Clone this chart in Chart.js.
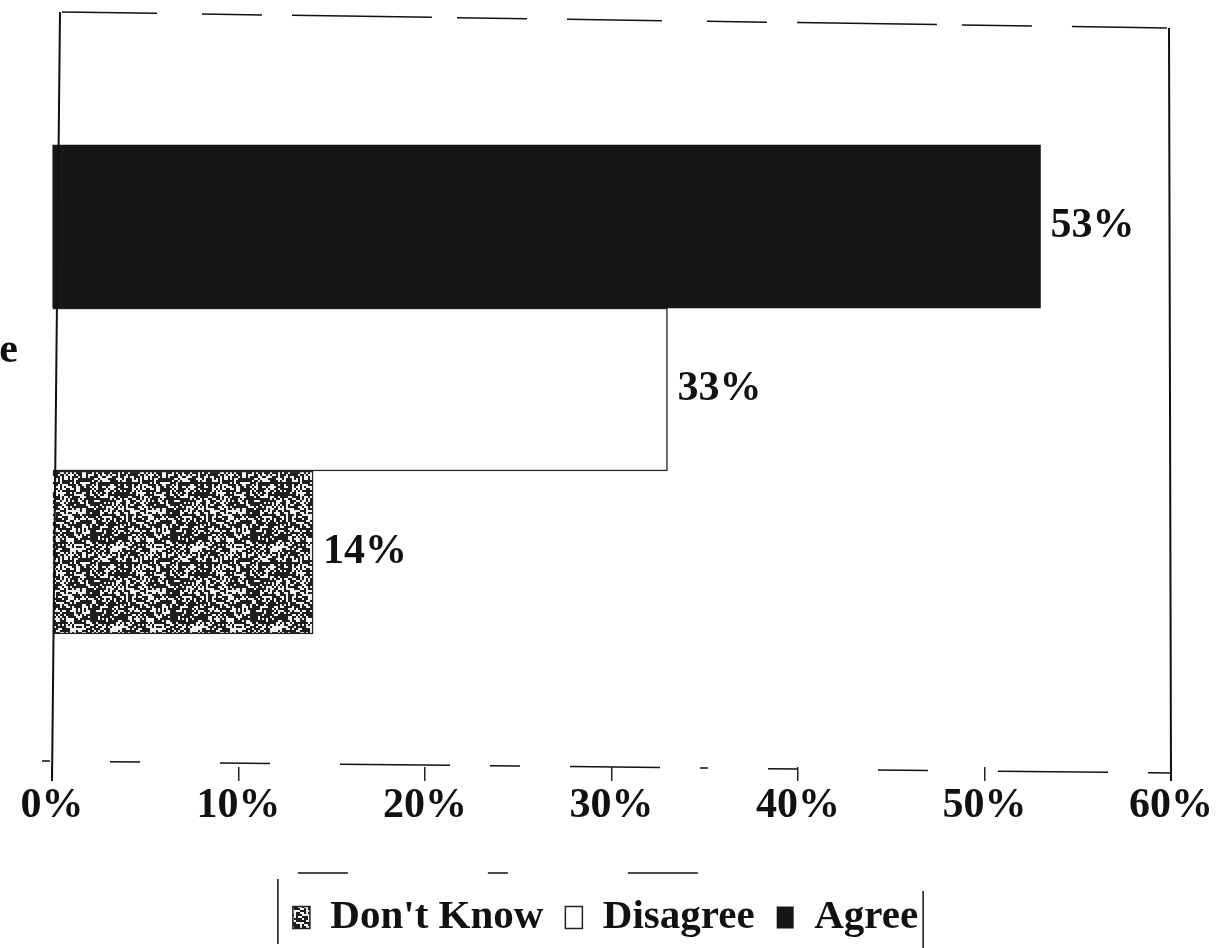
<!doctype html>
<html>
<head>
<script src="https://cdn.jsdelivr.net/npm/chart.js@4.4.1/dist/chart.umd.min.js"></script>
<style>
  body { margin: 0; background: #fff; }
  #wrap { width: 1217px; height: 948px; }
</style>
</head>
<body>
<div id="wrap"><canvas id="survey-chart"></canvas></div>
<script>
// survey answers, one category
const categories = ['e'];
const seriesNames = ['Agree', 'Disagree', "Don't Know"];
const agreeValues = [53];
const disagreeValues = [33];
const dontKnowValues = [14];
const tickValues = [0, 10, 20, 30, 40, 50, 60];

const FONT = "'Liberation Serif', 'DejaVu Serif', serif";

// integer hash for the fill texture
function cellHash(x, y) {
    let h = Math.imul(x, 374761393) + Math.imul(y, 668265263);
    h = Math.imul(h ^ (h >>> 13), 1274126177);
    h ^= h >>> 16;
    return (h >>> 0) / 4294967296;
}

// speckled fill for the "don't know" bar
function makeStipple(ctx) {
    const n = 40, cell = 2;
    const c = document.createElement('canvas');
    c.width = c.height = n * cell;
    const g = c.getContext('2d');
    g.fillStyle = '#f2f2f2';
    g.fillRect(0, 0, n * cell, n * cell);
    g.fillStyle = '#1e1e1e';
    for (let y = 0; y < n; y++) {
        for (let x = 0; x < n; x++) {
            if (cellHash(x, y) < 0.6) g.fillRect(x * cell, y * cell, cell, cell);
        }
    }
    return ctx.createPattern(c, 'repeat');
}

// value labels at the bar ends
const valueLabels = {
    id: 'valueLabels',
    afterDatasetsDraw(chart) {
        const ctx = chart.ctx;
        ctx.save();
        ctx.font = 'bold 42px ' + FONT;
        ctx.fillStyle = '#111';
        ctx.textBaseline = 'middle';
        chart.data.datasets.forEach((ds, i) => {
            chart.getDatasetMeta(i).data.forEach((bar, j) => {
                ctx.fillText(ds.data[j] + '%', bar.x + 10, bar.y);
            });
        });
        ctx.restore();
    }
};

// plot frame and box around the legend
const frames = {
    id: 'frames',
    afterLayout(chart) {
        // nudge the legend row a little to the right
        chart.legend.left += 20;
        chart.legend.right += 20;
    },
    afterDraw(chart) {
        const ctx = chart.ctx;
        const a = chart.chartArea;
        ctx.save();
        ctx.strokeStyle = '#111';
        ctx.lineWidth = 2;
        ctx.beginPath();
        ctx.moveTo(a.left + 8, a.top); ctx.lineTo(a.left, a.bottom + 14);
        ctx.moveTo(a.right - 2, a.top + 16); ctx.lineTo(a.right, a.bottom + 14);
        ctx.stroke();
        ctx.lineWidth = 1.5;
        ctx.setLineDash([95, 45, 60, 30, 140, 25, 70, 40]);
        ctx.beginPath();
        ctx.moveTo(a.left + 10, a.top); ctx.lineTo(a.right, a.top + 16);
        ctx.stroke();
        ctx.setLineDash([8, 60, 30, 80, 50, 70, 110, 40, 30, 50, 90, 40]);
        ctx.beginPath();
        ctx.moveTo(a.left - 10, a.bottom - 6); ctx.lineTo(a.right, a.bottom + 6);
        ctx.stroke();

        const boxes = chart.legend.legendHitBoxes;
        if (boxes && boxes.length) {
            const l = Math.min(...boxes.map(b => b.left)) - 15;
            const r = Math.max(...boxes.map(b => b.left + b.width)) + 5;
            const t = chart.legend.top - 2;
            ctx.setLineDash([]);
            ctx.lineWidth = 1.5;
            ctx.beginPath();
            ctx.moveTo(l, t + 6); ctx.lineTo(l, chart.height - 4);
            ctx.moveTo(r, t + 18); ctx.lineTo(r, chart.height);
            ctx.stroke();
            ctx.setLineDash([50, 140, 20, 120, 70, 300]);
            ctx.beginPath();
            ctx.moveTo(l + 20, t); ctx.lineTo(r, t);
            ctx.stroke();
        }
        ctx.restore();
    }
};

function start() {
    const ctx = document.getElementById('survey-chart').getContext('2d');
    const stipple = makeStipple(ctx);
    const config = {
        type: 'bar',
        data: {
            labels: categories,
            datasets: [
                { label: seriesNames[0], data: agreeValues, backgroundColor: '#161616', borderColor: '#161616', borderWidth: 0 },
                { label: seriesNames[1], data: disagreeValues, backgroundColor: '#ffffff', borderColor: '#222', borderWidth: 1.5 },
                { label: seriesNames[2], data: dontKnowValues, backgroundColor: stipple, borderColor: '#222', borderWidth: 1.5 }
            ]
        },
        options: {
            indexAxis: 'y',
            responsive: true,
            maintainAspectRatio: false,
            animation: false,
            barThickness: 163,
            layout: { padding: { top: 12, right: 46, left: 0, bottom: 0 } },
            scales: {
                x: {
                    min: tickValues[0],
                    max: tickValues[tickValues.length - 1],
                    afterBuildTicks(scale) { scale.ticks = tickValues.map(v => ({ value: v })); },
                    afterFit(scale) { scale.height = 108; scale.paddingLeft = 0; scale.paddingRight = 0; },
                    grid: { drawOnChartArea: false, drawTicks: true, tickLength: 14, color: '#222', lineWidth: 1.5 },
                    border: { display: false },
                    ticks: {
                        padding: 0,
                        color: '#111',
                        font: { family: FONT, size: 42, weight: 'bold' },
                        callback: v => v + '%'
                    }
                },
                y: {
                    afterFit(scale) { scale.width = 52; scale.paddingTop = 0; scale.paddingBottom = 0; },
                    grid: { display: false, drawTicks: false },
                    border: { display: false },
                    ticks: {
                        padding: 34,
                        labelOffset: -38,
                        color: '#111',
                        font: { family: FONT, size: 42, weight: 'bold' }
                    }
                }
            },
            plugins: {
                tooltip: { enabled: false },
                legend: {
                    position: 'bottom',
                    reverse: true,
                    labels: {
                        color: '#111',
                        boxWidth: 17,
                        boxHeight: 22,
                        padding: 22,
                        font: { family: FONT, size: 41, weight: 'bold' }
                    }
                }
            }
        },
        plugins: [valueLabels, frames]
    };
    window.surveyChart = new Chart(ctx, config);
}
start();
</script>
</body>
</html>
